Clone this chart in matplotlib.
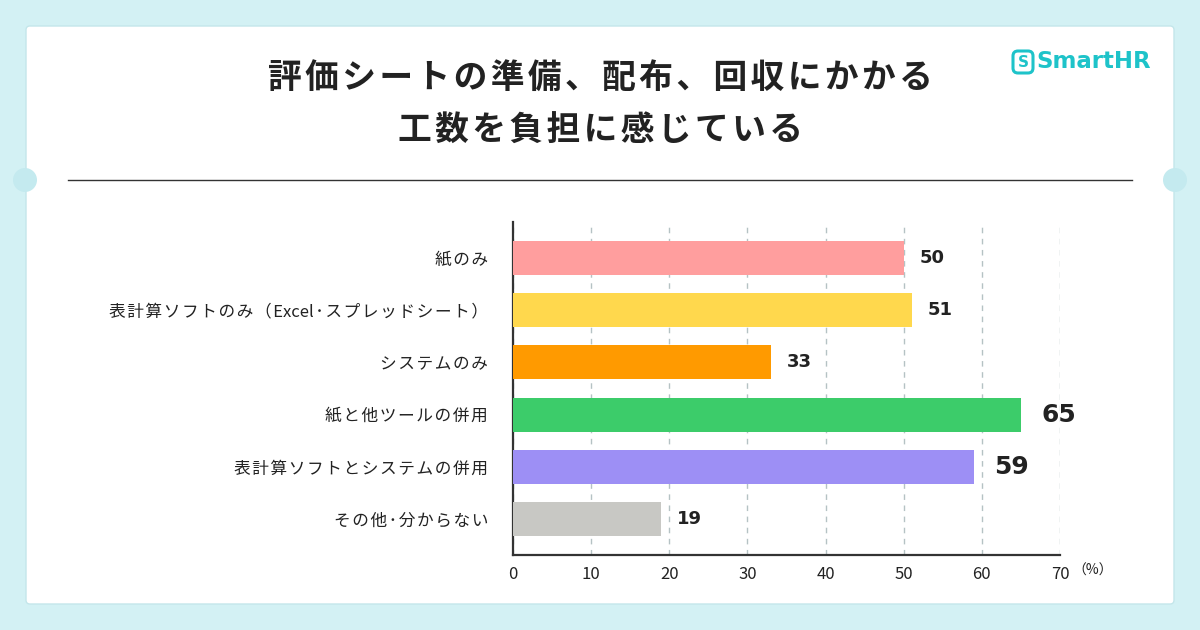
import matplotlib.pyplot as plt
from matplotlib.patches import FancyBboxPatch, Circle
import numpy as np

plt.rcParams['font.family'] = ['Noto Sans CJK JP', 'DejaVu Sans']

categories = ['紙のみ', '表計算ソフトのみ（Excel･スプレッドシート）', 'システムのみ',
              '紙と他ツールの併用', '表計算ソフトとシステムの併用', 'その他･分からない']
values = [50, 51, 33, 65, 59, 19]
colors = ['#ff9e9e', '#ffd84d', '#ff9a00', '#3ccc6a', '#9d8ff5', '#c8c8c4']
big = [False, False, False, True, True, False]
xticks = [0, 10, 20, 30, 40, 50, 60, 70]


def spaced(s, gap='\u200a'):
    # loose letter spacing for the japanese text, latin runs stay tight
    out = ''
    for i, c in enumerate(s):
        out += c
        if i < len(s) - 1 and not (c.isascii() and s[i + 1].isascii()):
            out += gap
    return out


W, H = 1200, 630
fig = plt.figure(figsize=(12, 6.3), dpi=100)
fig.patch.set_facecolor('#d3f1f4')

# background card in pixel coords
bg = fig.add_axes([0, 0, 1, 1])
bg.set_xlim(0, W)
bg.set_ylim(H, 0)
bg.axis('off')
bg.add_patch(FancyBboxPatch((26, 26), 1148, 578, boxstyle='round,pad=0,rounding_size=4',
                            fc='white', ec='#c4e6ea', lw=1))
for cx in (25, 1175):
    bg.add_patch(Circle((cx, 180), 12, fc='#c4eaef', ec='none'))
bg.plot([68, 1132], [180, 180], color='#333333', lw=1)

bg.text(600, 78, spaced('評価シートの準備、配布、回収にかかる'), ha='center', va='center',
        fontsize=24.3, fontweight='bold', color='#222222')
bg.text(600, 130, spaced('工数を負担に感じている'), ha='center', va='center',
        fontsize=24.3, fontweight='bold', color='#222222')

# SmartHR logo
teal = '#1ec3c9'
bg.add_patch(FancyBboxPatch((1013, 51), 20, 22, boxstyle='round,pad=0,rounding_size=5',
                            fc='none', ec=teal, lw=2.2))
bg.text(1023, 62.5, 'S', ha='center', va='center', fontsize=11, fontweight='bold',
        color=teal, family='DejaVu Sans')
bg.text(1036, 62, 'SmartHR', ha='left', va='center', fontsize=16.5, fontweight='bold',
        color=teal, family='DejaVu Sans')

# chart
ax = fig.add_axes([513 / W, 1 - 555 / H, 547 / W, 333 / H])
ax.set_facecolor('none')
y = np.arange(len(categories))
ax.barh(y, values, height=0.65, color=colors, zorder=3)
ax.set_xlim(0, 70)
ax.set_ylim(len(categories) - 0.31, -0.69)
ax.set_xticks(xticks)
ax.set_xticklabels([str(t) for t in xticks], fontsize=12, color='#222222')
ax.set_yticks(y)
ax.set_yticklabels([spaced(c) for c in categories], fontsize=12, color='#222222')
ax.tick_params(axis='y', length=0, pad=18)
ax.tick_params(axis='x', length=0, pad=8)
ax.xaxis.grid(True, color='#b5c2c4', linestyle=(0, (4, 4)), lw=1, zorder=0)
for s in ('top', 'right'):
    ax.spines[s].set_visible(False)
for s in ('left', 'bottom'):
    ax.spines[s].set_color('#333333')
    ax.spines[s].set_linewidth(1.6)

for yi, v, b in zip(y, values, big):
    ax.text(v + (2.6 if b else 2.0), yi, str(v), ha='left', va='center',
            fontsize=18 if b else 13, fontweight='bold', color='#222222',
            family='DejaVu Sans')

bg.text(1072, 571, '（%）', ha='left', va='center', fontsize=10, color='#222222')

fig.savefig('out.png', dpi=100, facecolor=fig.get_facecolor())
